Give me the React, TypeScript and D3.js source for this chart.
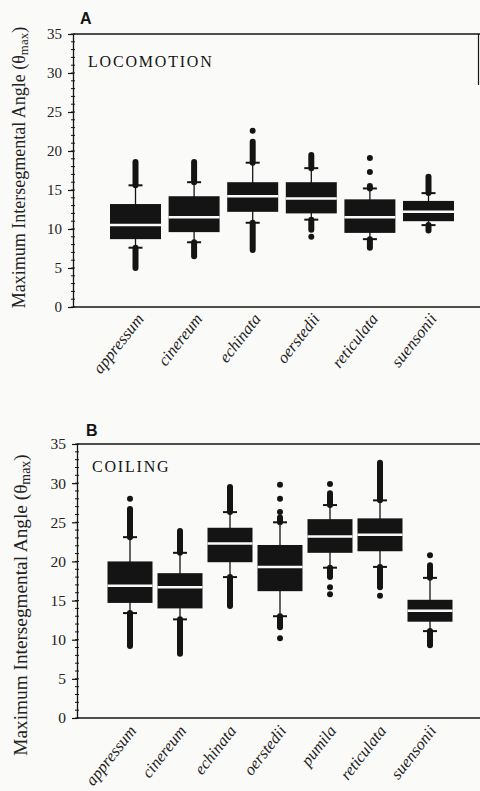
import React, { useEffect, useRef } from "react";
import * as d3 from "d3";

const W = 480;
const H = 791;

// panel A - locomotion
const locoSpecies = ["appressum", "cinereum", "echinata", "oerstedii", "reticulata", "suensonii"];
const locoQ1 = [8.7, 9.6, 12.2, 12.0, 9.5, 11.0];
const locoMedian = [10.5, 11.5, 14.2, 13.9, 11.5, 12.2];
const locoQ3 = [13.2, 14.2, 16.0, 16.0, 13.8, 13.6];
const locoLowCap = [7.6, 8.3, 10.8, 11.2, 8.7, 10.5];
const locoHighCap = [15.6, 16.0, 18.5, 17.8, 15.2, 14.6];
const locoLowRun = [5.0, 6.5, 7.3, 9.9, 7.6, 9.8];
const locoHighRun = [18.6, 18.6, 21.2, 19.5, 15.5, 16.7];
const locoDots = [[], [], [22.6], [9.0], [17.3, 19.1], []];

// panel B - coiling
const coilSpecies = ["appressum", "cinereum", "echinata", "oerstedii", "pumila", "reticulata", "suensonii"];
const coilQ1 = [14.7, 14.0, 19.9, 16.2, 21.1, 21.3, 12.3];
const coilMedian = [16.9, 16.7, 22.3, 19.3, 23.2, 23.4, 13.7];
const coilQ3 = [20.0, 18.5, 24.3, 22.1, 25.4, 25.5, 15.1];
const coilLowCap = [13.4, 12.6, 18.0, 13.0, 19.2, 19.3, 11.1];
const coilHighCap = [23.1, 21.1, 26.3, 25.0, 27.2, 27.8, 17.9];
const coilLowRun = [9.2, 8.2, 14.3, 11.6, 18.0, 16.7, 9.3];
const coilHighRun = [26.7, 23.9, 29.5, 25.6, 28.7, 32.6, 19.5];
const coilDots = [[28.0], [], [], [26.3, 28.0, 29.8, 10.2], [29.9, 16.7, 15.8], [15.6], [20.8]];

const yTicks = [0, 5, 10, 15, 20, 25, 30, 35];

const serif = "'Liberation Serif', 'Times New Roman', serif";
const ink = "#141414";

const drawPanel = (svg, cfg) => {
  const y = d3.scaleLinear().domain([0, 35]).range([cfg.bottom, cfg.top]);
  const x = d3.scalePoint().domain(cfg.species).range(cfg.xRange);
  const bw = x.step() * cfg.boxFrac;
  const g = svg.append("g");

  // frame
  g.append("line").attr("x1", cfg.left).attr("x2", W).attr("y1", cfg.top).attr("y2", cfg.top)
    .attr("stroke", ink).attr("stroke-width", 1.3);
  g.append("line").attr("x1", cfg.left).attr("x2", W).attr("y1", cfg.bottom).attr("y2", cfg.bottom)
    .attr("stroke", ink).attr("stroke-width", 1.5);
  if (cfg.rightEdge) {
    g.append("line").attr("x1", 478.5).attr("x2", 478.5).attr("y1", cfg.top).attr("y2", cfg.rightEdge)
      .attr("stroke", ink).attr("stroke-width", 1.2);
  }

  // minor ticks
  g.selectAll(".minor")
    .data(d3.range(0, 36, 1))
    .join("line")
    .attr("class", "minor")
    .attr("x1", cfg.left - 2)
    .attr("x2", cfg.left + 2)
    .attr("y1", (d) => y(d))
    .attr("y2", (d) => y(d))
    .attr("stroke", ink)
    .attr("stroke-width", 1);

  const axis = g.append("g")
    .attr("transform", `translate(${cfg.left},0)`)
    .call(d3.axisLeft(y).tickValues(yTicks).tickSize(5).tickSizeOuter(0).tickPadding(6));
  axis.attr("font-family", serif).attr("font-size", cfg.tickFont);
  axis.select(".domain").attr("stroke", ink).attr("stroke-width", 1.3);
  axis.selectAll(".tick line").attr("stroke", ink).attr("stroke-width", 1.2);
  axis.selectAll(".tick text").attr("fill", "#222");

  // y label
  const yl = g.append("text")
    .attr("transform", `translate(${cfg.labelX},${(cfg.top + cfg.bottom) / 2 + cfg.labelShift}) rotate(-90)`)
    .attr("text-anchor", "middle")
    .attr("font-family", serif)
    .attr("font-size", cfg.labelFont)
    .attr("fill", "#222");
  yl.append("tspan").text("Maximum Intersegmental Angle (θ");
  yl.append("tspan").attr("font-size", cfg.labelFont * 0.72).attr("dy", 3).text("max");
  yl.append("tspan").attr("dy", -3).text(")");

  // panel letter and title
  g.append("text").attr("x", cfg.letterX).attr("y", cfg.letterY)
    .attr("font-family", "'Liberation Sans', Arial, sans-serif").attr("font-weight", "bold")
    .attr("font-size", 16).attr("fill", ink).text(cfg.letter);
  g.append("text").attr("x", cfg.titleX).attr("y", cfg.titleY)
    .attr("font-family", serif).attr("font-size", 16).attr("letter-spacing", 1.8)
    .attr("fill", ink).text(cfg.title);

  // boxes
  const items = cfg.species.map((s, i) => ({
    s, q1: cfg.q1[i], med: cfg.med[i], q3: cfg.q3[i],
    loCap: cfg.loCap[i], hiCap: cfg.hiCap[i], loRun: cfg.loRun[i], hiRun: cfg.hiRun[i], dots: cfg.dots[i],
  }));
  const box = g.selectAll(".box").data(items).join("g").attr("class", "box")
    .attr("transform", (d) => `translate(${x(d.s)},0)`);

  box.append("line").attr("y1", (d) => y(d.loCap)).attr("y2", (d) => y(d.hiCap))
    .attr("stroke", ink).attr("stroke-width", 1.3);
  box.append("line").attr("y1", (d) => y(d.hiCap)).attr("y2", (d) => y(d.hiRun))
    .attr("stroke", ink).attr("stroke-width", 6).attr("stroke-linecap", "round");
  box.append("line").attr("y1", (d) => y(d.loCap)).attr("y2", (d) => y(d.loRun))
    .attr("stroke", ink).attr("stroke-width", 6).attr("stroke-linecap", "round");
  box.selectAll(".cap").data((d) => [d.loCap, d.hiCap]).join("line").attr("class", "cap")
    .attr("x1", -7).attr("x2", 7).attr("y1", (v) => y(v)).attr("y2", (v) => y(v))
    .attr("stroke", ink).attr("stroke-width", 2);
  box.selectAll(".dot").data((d) => d.dots).join("circle").attr("class", "dot")
    .attr("cy", (v) => y(v)).attr("r", 3).attr("fill", ink);
  box.append("rect").attr("x", -bw / 2).attr("width", bw)
    .attr("y", (d) => y(d.q3)).attr("height", (d) => y(d.q1) - y(d.q3)).attr("fill", ink);
  box.append("line").attr("x1", -bw / 2).attr("x2", bw / 2)
    .attr("y1", (d) => y(d.med)).attr("y2", (d) => y(d.med))
    .attr("stroke", "#fafaf8").attr("stroke-width", 2.5);

  // category labels
  g.selectAll(".cat").data(cfg.species).join("text").attr("class", "cat")
    .attr("transform", (d) => `translate(${x(d) + cfg.catDx},${cfg.bottom + cfg.catDy}) rotate(-52)`)
    .attr("text-anchor", "end")
    .attr("font-family", serif).attr("font-style", "italic").attr("font-size", cfg.catFont)
    .attr("fill", "#222").text((d) => d);
};

const App = () => {
  const svgRef = useRef(null);

  useEffect(() => {
    const svg = d3.select(svgRef.current);
    svg.selectAll("*").remove();
    svg.append("rect").attr("width", W).attr("height", H).attr("fill", "#fafaf8");

    drawPanel(svg, {
      species: locoSpecies, q1: locoQ1, med: locoMedian, q3: locoQ3,
      loCap: locoLowCap, hiCap: locoHighCap, loRun: locoLowRun, hiRun: locoHighRun, dots: locoDots,
      top: 34, bottom: 307, left: 73, xRange: [135.5, 428.5], boxFrac: 0.87, rightEdge: 85,
      letter: "A", letterX: 80, letterY: 24, title: "LOCOMOTION", titleX: 88, titleY: 67,
      labelX: 25, labelShift: -3, labelFont: 18, tickFont: 15, catFont: 16.5, catDx: 9, catDy: 12,
    });

    drawPanel(svg, {
      species: coilSpecies, q1: coilQ1, med: coilMedian, q3: coilQ3,
      loCap: coilLowCap, hiCap: coilHighCap, loRun: coilLowRun, hiRun: coilHighRun, dots: coilDots,
      top: 444, bottom: 718, left: 77, xRange: [130, 430], boxFrac: 0.9, rightEdge: null,
      letter: "B", letterX: 86, letterY: 436, title: "COILING", titleX: 92, titleY: 472,
      labelX: 27, labelShift: 24, labelFont: 19.3, tickFont: 15.5, catFont: 16.5, catDx: 7, catDy: 13,
    });
  }, []);

  return <svg ref={svgRef} width={W} height={H} style={{ position: "absolute", left: 0, top: 0 }} />;
};

export default App;
